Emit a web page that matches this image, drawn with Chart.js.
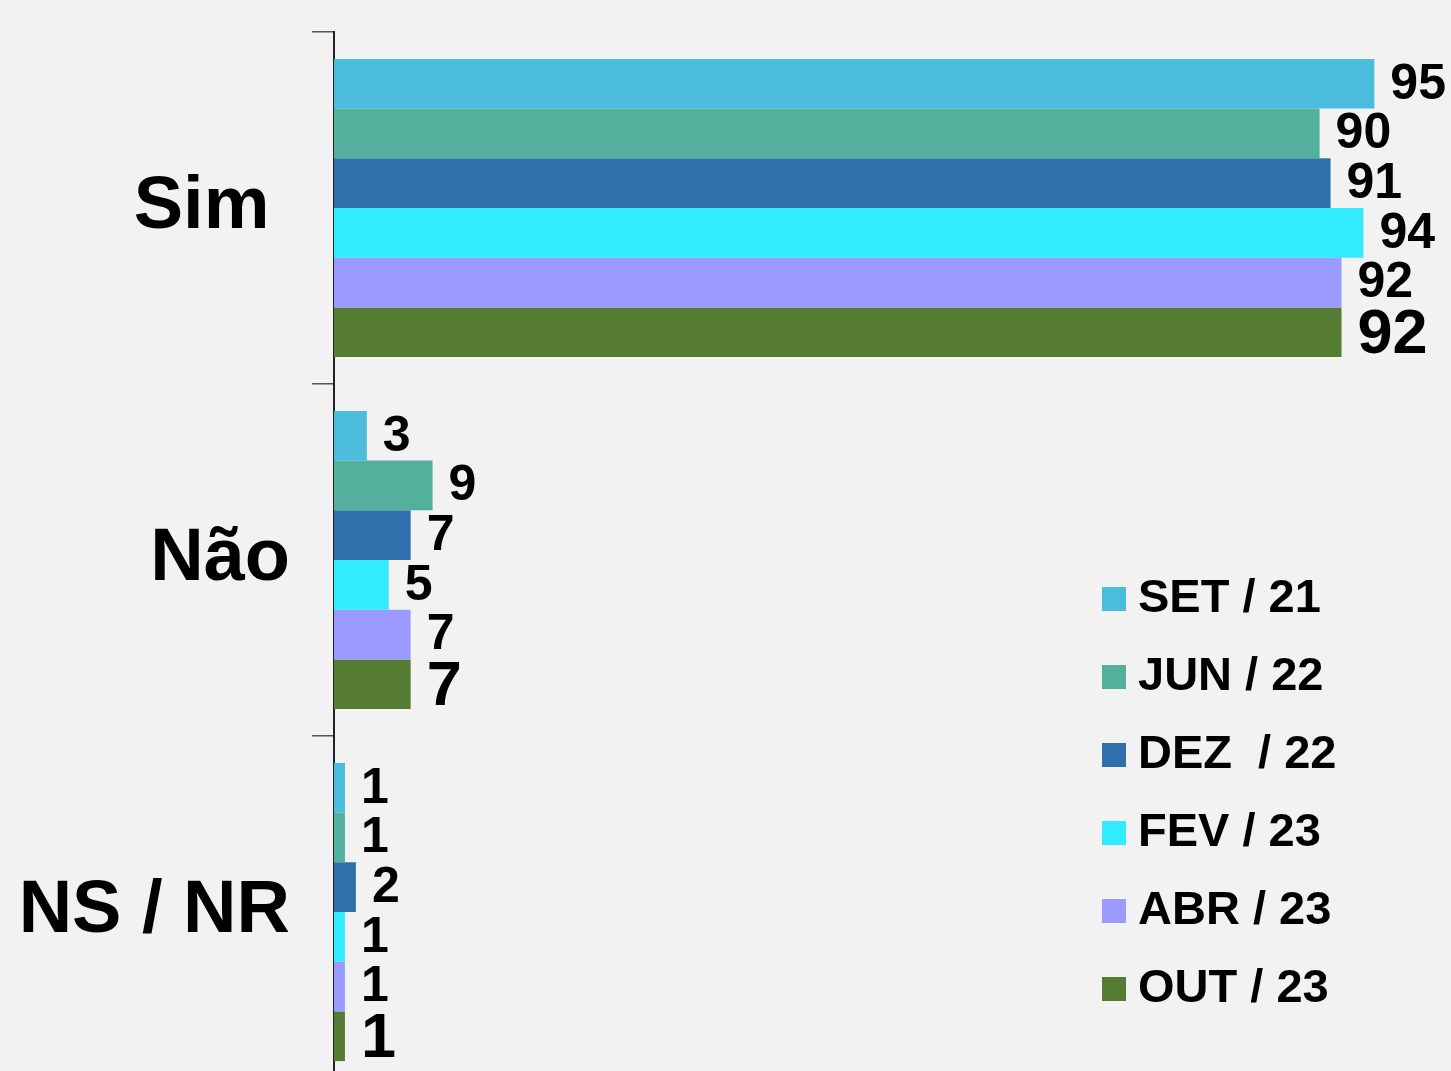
<!DOCTYPE html>
<html>
<head>
<meta charset="utf-8">
<title>Sim / Não / NS-NR</title>
<script src="https://cdn.jsdelivr.net/npm/chart.js@4.4.0/dist/chart.umd.min.js"></script>
<style>
    html, body { margin: 0; padding: 0; background: #f2f2f2; }
    .wrap { width: 1451px; height: 1071px; overflow: hidden; }
    canvas { display: block; }
</style>
</head>
<body>
<div class="wrap"><canvas id="chart" width="1451" height="1100"></canvas></div>
<script>
// Categories and survey waves
const categories = ['Sim ', 'Não', 'NS / NR'];
const waves = ['SET / 21', 'JUN / 22', 'DEZ  / 22', 'FEV / 23', 'ABR / 23', 'OUT / 23'];
const colors = ['#4bbcdc', '#52b09c', '#2e6fac', '#33ebff', '#9b9bff', '#567c34'];

// Values per wave (Sim, Não, NS/NR)
const set21 = [95, 3, 1];
const jun22 = [90, 9, 1];
const dez22 = [91, 7, 2];
const fev23 = [94, 5, 1];
const abr23 = [92, 7, 1];
const out23 = [92, 7, 1];
const seriesValues = [set21, jun22, dez22, fev23, abr23, out23];

const FONT = '"Liberation Sans", Arial, Helvetica, sans-serif';

// value labels at the end of each bar
const valueLabels = {
    id: 'valueLabels',
    afterDatasetsDraw(chart) {
        const ctx = chart.ctx;
        ctx.save();
        ctx.fillStyle = '#000';
        ctx.textAlign = 'left';
        ctx.textBaseline = 'middle';
        chart.data.datasets.forEach((ds, di) => {
            const meta = chart.getDatasetMeta(di);
            const last = di === chart.data.datasets.length - 1;
            ctx.font = `bold ${last ? 63 : 50}px ${FONT}`;
            meta.data.forEach((bar, i) => {
                ctx.fillText(String(ds.data[i]), bar.x + 16, bar.y + (last ? 3 : 1));
            });
        });
        ctx.restore();
    }
};

// legend drawn inside the plot, bottom right
const sideLegend = {
    id: 'sideLegend',
    afterDraw(chart, args, opts) {
        const ctx = chart.ctx;
        ctx.save();
        ctx.font = `bold 47px ${FONT}`;
        ctx.textBaseline = 'middle';
        ctx.textAlign = 'left';
        chart.data.datasets.forEach((ds, i) => {
            const y = opts.top + i * opts.step;
            ctx.fillStyle = ds.backgroundColor;
            ctx.fillRect(opts.x, y - 12, 24, 24);
            ctx.fillStyle = '#000';
            ctx.fillText(ds.label, opts.x + 36, y);
        });
        ctx.restore();
    }
};

const bgPlugin = {
    id: 'bg',
    beforeDraw(chart) {
        const ctx = chart.ctx;
        ctx.save();
        ctx.fillStyle = '#f2f2f2';
        ctx.fillRect(0, 0, chart.width, chart.height);
        ctx.restore();
    }
};

new Chart(document.getElementById('chart').getContext('2d'), {
    type: 'bar',
    data: {
        labels: categories,
        datasets: waves.map((w, i) => ({
            label: w,
            data: seriesValues[i],
            backgroundColor: colors[i],
            borderWidth: 0,
            barPercentage: 1,
            categoryPercentage: 0.847
        }))
    },
    options: {
        indexAxis: 'y',
        responsive: false,
        devicePixelRatio: 1,
        animation: false,
        layout: { padding: { top: 32, right: 0, bottom: 12, left: 0 } },
        plugins: {
            legend: { display: false },
            tooltip: { enabled: false },
            sideLegend: { x: 1102, top: 599, step: 78 }
        },
        scales: {
            x: { display: false, min: 0, max: 102 },
            y: {
                afterFit: s => { s.width = 334; s.paddingTop = 0; s.paddingBottom = 0; },
                border: { display: true, color: '#222', width: 2 },
                grid: { drawOnChartArea: false, drawTicks: true, tickLength: 22, color: '#555', lineWidth: 1.5, offset: true },
                ticks: { color: '#000', padding: 22, font: { family: FONT, size: 74, weight: 'bold' } }
            }
        }
    },
    plugins: [bgPlugin, valueLabels, sideLegend]
});
</script>
</body>
</html>
